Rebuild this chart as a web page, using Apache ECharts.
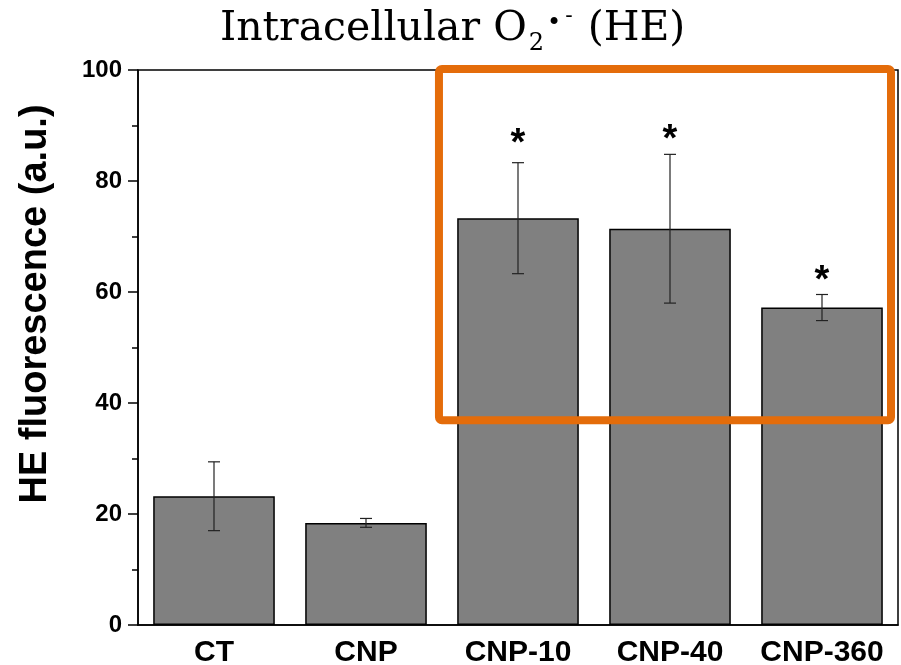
<!DOCTYPE html>
<html><head><meta charset="utf-8">
<script src="https://cdn.jsdelivr.net/npm/echarts@6/dist/echarts.min.js"></script>
<style>html,body{margin:0;padding:0;background:#fff}#c{width:901px;height:665px}</style>
</head><body><div id="c"></div>
<script>
const categories = ['CT', 'CNP', 'CNP-10', 'CNP-40', 'CNP-360'];
const means = [23.2, 18.4, 73.3, 71.4, 57.2];
const errors = [6.2, 0.8, 10.0, 13.4, 2.35];
const starY = [null, null, 87.9, 88.6, 63.1];
const yTicks = [0, 20, 40, 60, 80, 100];
// highlight box: [from category index, to category index, y low, y high]
const highlightBox = [1.48, 4.454, 36.9, 100.2];

const chart = echarts.init(document.getElementById('c'));

const errData = categories.map((c, i) => [i, means[i] - errors[i], means[i] + errors[i]]);
const starData = starY.map((v, i) => v == null ? null : [i, v]).filter(d => d);

const serif = 'DejaVu Serif';
const option = {
  animation: false,
  backgroundColor: '#fff',
  title: {
    text: '{a|Intracellular O}{sub|2}{dot|•}{minus|-}{a| (HE)}',
    left: 220, top: 0, padding: 0,
    textStyle: {
      fontWeight: 'normal',
      rich: {
        a: { fontFamily: serif, fontWeight: 'normal', fontSize: 41, color: '#000', lineHeight: 58 },
        sub: { fontFamily: serif, fontWeight: 'normal', fontSize: 24, color: '#000', lineHeight: 2, verticalAlign: 'top', padding: [32, 3, 0, 2] },
        dot: { fontFamily: serif, fontWeight: 'normal', fontSize: 24, color: '#000', lineHeight: 2, verticalAlign: 'top', padding: [12, 4, 0, 0] },
        minus: { fontFamily: serif, fontWeight: 'normal', fontSize: 22, color: '#000', lineHeight: 2, verticalAlign: 'top', padding: [5, 2, 0, 0] }
      }
    }
  },
  grid: { left: 138, right: 3, top: 70, bottom: 40, outerBoundsMode: 'none', containLabel: false, show: true, borderColor: '#000', borderWidth: 1.5, backgroundColor: 'transparent' },
  graphic: [{
    type: 'text', x: 36, y: 304, rotation: Math.PI / 2,
    style: { text: 'HE fluorescence (a.u.)', fontFamily: 'Liberation Sans', fontWeight: 'bold', fontSize: 38, fill: '#000', align: 'center', verticalAlign: 'middle' }
  }],
  xAxis: [{
    type: 'category', data: categories,
    axisLine: { lineStyle: { color: '#000', width: 1.5 } },
    axisTick: { length: 8, lineStyle: { color: '#000', width: 1.5 } },
    axisLabel: { interval: 0, color: '#000', fontFamily: 'Liberation Sans', fontWeight: 'bold', fontSize: 30, margin: 13 }
  }, {
    type: 'category', data: categories, position: 'bottom',
    axisLine: { show: false },
    axisTick: { inside: true, alignWithLabel: true, length: 5, lineStyle: { color: '#000', width: 1 } },
    axisLabel: { show: false }
  }],
  yAxis: {
    type: 'value', min: yTicks[0], max: yTicks[yTicks.length - 1], interval: yTicks[1] - yTicks[0],
    axisLine: { show: true, lineStyle: { color: '#000', width: 1.5 } },
    axisTick: { show: true, length: 10, lineStyle: { color: '#000', width: 1.5 } },
    minorTick: { show: true, splitNumber: 2, length: 6, lineStyle: { color: '#000', width: 1.5 } },
    splitLine: { show: false },
    axisLabel: { color: '#000', fontFamily: 'Liberation Sans', fontWeight: 'bold', fontSize: 24, margin: 16 }
  },
  series: [{
    type: 'bar', data: means, barWidth: '80%',
    itemStyle: { color: '#808080', borderColor: '#000', borderWidth: 1.5 },
    z: 2
  }, {
    type: 'custom', data: errData, z: 3,
    encode: { x: 0, y: [1, 2] },
    renderItem(params, api) {
      const x = api.value(0);
      const lo = api.coord([x, api.value(1)]);
      const hi = api.coord([x, api.value(2)]);
      const w = 6;
      const st = { stroke: '#222', lineWidth: 1.2 };
      return {
        type: 'group', children: [
          { type: 'line', shape: { x1: hi[0], y1: hi[1], x2: lo[0], y2: lo[1] }, style: st },
          { type: 'line', shape: { x1: hi[0] - w, y1: hi[1], x2: hi[0] + w, y2: hi[1] }, style: st },
          { type: 'line', shape: { x1: lo[0] - w, y1: lo[1], x2: lo[0] + w, y2: lo[1] }, style: st }
        ]
      };
    }
  }, {
    type: 'custom', data: starData, z: 4,
    renderItem(params, api) {
      const p = api.coord([api.value(0), api.value(1)]);
      return {
        type: 'text', x: p[0], y: p[1] + 7,
        style: { text: '*', fontFamily: 'Liberation Sans', fontWeight: 'bold', fontSize: 38, fill: '#000', align: 'center', verticalAlign: 'middle' }
      };
    }
  }, {
    type: 'custom', data: [highlightBox], z: 5,
    encode: { x: 0, y: 2 },
    renderItem(params, api) {
      const base = api.coord([0, 0]);
      const bw = api.size([1, 0])[0];
      const x0 = base[0] + api.value(0) * bw;
      const x1 = base[0] + api.value(1) * bw;
      const yLo = api.coord([0, api.value(2)])[1];
      const yHi = api.coord([0, api.value(3)])[1];
      return {
        type: 'rect',
        shape: { x: x0, y: yHi, width: x1 - x0, height: yLo - yHi, r: 3 },
        style: { fill: 'none', stroke: '#E46C0A', lineWidth: 8 }
      };
    }
  }]
};
chart.setOption(option);
</script>
</body></html>
